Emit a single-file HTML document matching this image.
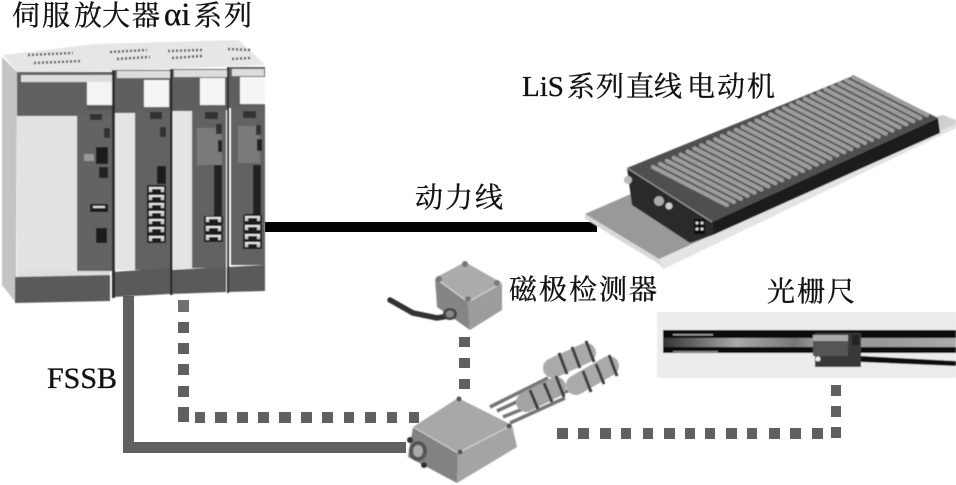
<!DOCTYPE html>
<html lang="zh">
<head>
<meta charset="utf-8">
<style>
html,body{margin:0;padding:0;background:#fff;}
svg{display:block;}
text{font-family:"Liberation Serif","Noto Serif CJK SC",serif;fill:#111;stroke:#111;stroke-width:.35px;font-size:28px;}
</style>
</head>
<body>
<svg width="956" height="485" viewBox="0 0 956 485" xmlns="http://www.w3.org/2000/svg">
<defs>
<filter id="b" x="-5%" y="-5%" width="110%" height="110%"><feGaussianBlur stdDeviation="0.6"/></filter>
<linearGradient id="mid" x1="0" x2="1" y1="0" y2="0">
<stop offset="0" stop-color="#333"/><stop offset=".25" stop-color="#aaa"/><stop offset=".45" stop-color="#777"/><stop offset=".52" stop-color="#999"/><stop offset=".75" stop-color="#999"/><stop offset="1" stop-color="#aaa"/>
</linearGradient>
<linearGradient id="plate" x1="0" x2="1" y1="0" y2="0.3">
<stop offset="0" stop-color="#9a9a9a"/><stop offset=".5" stop-color="#999"/><stop offset="1" stop-color="#ddd"/>
</linearGradient>
<g id="conn"><rect x="0" y="0" width="19" height="8" fill="#1c1c1c"/><rect x="2" y="1" width="15" height="2" fill="#e4e4e4"/><rect x="2" y="3" width="3" height="3" fill="#ccc"/><rect x="14" y="3" width="3" height="3" fill="#ccc"/></g>
<line id="r" x1="653" y1="167" x2="727" y2="205" stroke="#9c9c9c" stroke-width="4.2" stroke-linecap="round"/>
</defs>

<!-- connectors -->
<rect x="265" y="222" width="332" height="10" fill="#000"/>
<g fill="#606060">
<rect x="123" y="296" width="11" height="157"/>
<rect x="123" y="442" width="283" height="11"/>
<rect x="178" y="300" width="11" height="12" fill="#707070"/>
<rect x="178" y="322" width="11" height="11"/>
<rect x="178" y="343" width="11" height="11"/>
<rect x="178" y="364" width="11" height="11"/>
<rect x="178" y="386" width="11" height="11"/>
<rect x="178" y="407" width="11" height="15"/>
<rect x="195" y="412" width="10" height="11"/>
<rect x="215" y="412" width="12" height="11"/>
<rect x="237" y="412" width="11" height="11"/>
<rect x="258" y="412" width="11" height="11"/>
<rect x="279" y="412" width="12" height="11"/>
<rect x="301" y="412" width="11" height="11"/>
<rect x="322" y="412" width="11" height="11"/>
<rect x="344" y="412" width="10" height="11"/>
<rect x="365" y="412" width="11" height="11"/>
<rect x="387" y="412" width="10" height="11"/>
<rect x="409" y="412" width="10" height="11"/>
<rect x="459" y="337" width="11" height="10"/>
<rect x="459" y="358" width="11" height="10"/>
<rect x="459" y="379" width="11" height="10"/>
<rect x="557" y="428" width="11" height="11"/>
<rect x="578" y="428" width="11" height="11"/>
<rect x="600" y="428" width="11" height="11"/>
<rect x="621" y="428" width="10" height="11"/>
<rect x="643" y="428" width="10" height="11"/>
<rect x="664" y="428" width="11" height="11"/>
<rect x="685" y="428" width="10" height="11"/>
<rect x="705" y="428" width="10" height="11"/>
<rect x="726" y="428" width="11" height="11"/>
<rect x="747" y="428" width="10" height="11"/>
<rect x="769" y="428" width="11" height="11"/>
<rect x="790" y="428" width="11" height="11"/>
<rect x="812" y="428" width="11" height="11"/>
<rect x="831" y="427" width="10" height="11"/>
<rect x="831" y="406" width="10" height="11"/>
<rect x="831" y="385" width="10" height="11"/>
</g>

<!-- servo amplifier -->
<g filter="url(#b)">
<polygon points="3,55 95,44 239,40 265,65 115,71 18,73" fill="#e6e6e6"/>
<polygon points="2,57 17,72 16,303 2,285" fill="#c4c4c4"/>
<g stroke="#444" stroke-width="2.5" stroke-dasharray="2 2" fill="none">
<line x1="28" y1="55" x2="73" y2="53"/><line x1="34" y1="63" x2="82" y2="61"/>
<line x1="110" y1="52" x2="147" y2="50"/><line x1="117" y1="59" x2="150" y2="57"/>
<line x1="168" y1="51" x2="202" y2="50"/><line x1="172" y1="58" x2="202" y2="56"/>
<line x1="228" y1="49" x2="250" y2="50"/><line x1="232" y1="59" x2="250" y2="58"/>
</g>
<!-- module 1 -->
<rect x="17" y="72" width="96" height="45" fill="#606060"/>
<rect x="21" y="75" width="91" height="7" fill="#ddd"/>
<rect x="87" y="82" width="26" height="28" fill="#f4f4f4"/>
<rect x="87" y="105" width="26" height="5" fill="#555"/>
<rect x="17" y="116" width="60" height="160" fill="#e2e2e2"/>
<rect x="77" y="116" width="36" height="155" fill="#646464"/>
<rect x="17" y="271" width="93" height="6" fill="#dedede"/>
<polygon points="15,277 110,275 110,301 15,303" fill="#5a5a5a"/>
<rect x="96" y="147" width="12" height="17" fill="#1c1c1c"/>
<rect x="99" y="167" width="9" height="11" fill="#222"/>
<rect x="90" y="204" width="18" height="8" fill="#1c1c1c"/><rect x="93" y="206" width="12" height="2" fill="#ddd"/>
<rect x="96" y="228" width="11" height="15" fill="#1c1c1c"/>
<rect x="104" y="128" width="6" height="10" fill="#333"/>
<rect x="84" y="154" width="10" height="7" fill="#999"/>
<rect x="90" y="114" width="12" height="6" fill="#333"/>
<!-- module 2 -->
<rect x="115" y="70" width="57" height="43" fill="#5e5e5e"/>
<rect x="117" y="71" width="54" height="7" fill="#ddd"/>
<rect x="144" y="80" width="25" height="27" fill="#f5f5f5"/>
<rect x="114" y="113" width="21" height="157" fill="#e4e4e4"/>
<rect x="135" y="112" width="36" height="158" fill="#626262"/>
<polygon points="113,272 170,268 170,294 113,297" fill="#5a5a5a"/>
<rect x="112" y="70" width="3" height="228" fill="#2e2e2e"/>
<rect x="157" y="166" width="9" height="18" fill="#1c1c1c"/>
<rect x="147" y="185" width="19" height="58" fill="#1c1c1c"/>
<use href="#conn" x="147" y="186"/><use href="#conn" x="147" y="194"/><use href="#conn" x="147" y="202"/><use href="#conn" x="147" y="210"/><use href="#conn" x="147" y="218"/><use href="#conn" x="147" y="226"/><use href="#conn" x="147" y="235"/>
<rect x="160" y="127" width="6" height="10" fill="#333"/>
<rect x="150" y="112" width="12" height="7" fill="#333"/>
<!-- module 3 -->
<rect x="172" y="69" width="56" height="42" fill="#5e5e5e"/>
<rect x="174" y="70" width="53" height="7" fill="#ddd"/>
<rect x="200" y="78" width="25" height="27" fill="#f5f5f5"/>
<rect x="173" y="111" width="19" height="158" fill="#e4e4e4"/>
<rect x="192" y="111" width="34" height="157" fill="#626262"/>
<rect x="197" y="128" width="25" height="37" fill="#7a7a7a"/>
<polygon points="171,270 226,267 226,292 171,294" fill="#5a5a5a"/>
<rect x="170" y="69" width="2.5" height="226" fill="#2e2e2e"/>
<rect x="214" y="165" width="8" height="52" fill="#222"/>
<rect x="205" y="216" width="17" height="25" fill="#1c1c1c"/>
<use href="#conn" x="204" y="216"/><use href="#conn" x="204" y="225"/><use href="#conn" x="204" y="234"/>
<rect x="216" y="124" width="6" height="10" fill="#333"/>
<rect x="218" y="140" width="4" height="12" fill="#222"/>
<rect x="205" y="112" width="13" height="7" fill="#333"/>
<!-- module 4 -->
<rect x="229" y="67" width="36" height="41" fill="#5e5e5e"/>
<rect x="232" y="69" width="32" height="7" fill="#ddd"/>
<rect x="240" y="77" width="25" height="27" fill="#f5f5f5"/>
<rect x="231" y="108" width="34" height="157" fill="#626262"/>
<rect x="226" y="110" width="3" height="157" fill="#eee"/>
<rect x="238" y="126" width="22" height="37" fill="#7a7a7a"/>
<polygon points="228,267 265,265 265,291 228,292" fill="#5a5a5a"/>
<rect x="227" y="67" width="2" height="226" fill="#2e2e2e"/>
<rect x="253" y="165" width="8" height="50" fill="#222"/>
<rect x="244" y="214" width="17" height="33" fill="#1c1c1c"/>
<use href="#conn" x="243" y="215"/><use href="#conn" x="243" y="224"/><use href="#conn" x="243" y="233"/><use href="#conn" x="243" y="241"/>
<rect x="256" y="125" width="5" height="10" fill="#333"/>
<rect x="257" y="139" width="5" height="12" fill="#222"/>
<rect x="243" y="111" width="13" height="7" fill="#333"/>
</g>

<!-- linear motor -->
<g filter="url(#b)">
<polygon points="585,214 640,190 943,115 956,120 956,128 663,269 659,259" fill="url(#plate)"/>
<polygon points="585,214 585,219 659,264 663,269 659,259" fill="#d8d8d8"/>
<polygon points="659,259 663,269 956,128 956,124" fill="#e4e4e4"/>
<polygon points="627,168 712,222 713,235 690,243 632,205" fill="#2a2a2a"/>
<polygon points="712,222 938,118 940,133 713,235" fill="#1e1e1e"/>
<polygon points="627,168 853,76 938,118 712,222" fill="#505050"/>
<use href="#r"/><use href="#r" transform="translate(6.9,-3.1)"/><use href="#r" transform="translate(13.8,-6.2)"/><use href="#r" transform="translate(20.7,-9.3)"/><use href="#r" transform="translate(27.6,-12.4)"/><use href="#r" transform="translate(34.5,-15.5)"/><use href="#r" transform="translate(41.4,-18.6)"/><use href="#r" transform="translate(48.3,-21.7)"/><use href="#r" transform="translate(55.2,-24.8)"/><use href="#r" transform="translate(62.1,-27.9)"/><use href="#r" transform="translate(69,-31)"/><use href="#r" transform="translate(75.9,-34.1)"/><use href="#r" transform="translate(82.8,-37.2)"/><use href="#r" transform="translate(89.7,-40.3)"/><use href="#r" transform="translate(96.6,-43.4)"/><use href="#r" transform="translate(103.5,-46.5)"/><use href="#r" transform="translate(110.4,-49.6)"/><use href="#r" transform="translate(117.3,-52.7)"/><use href="#r" transform="translate(124.2,-55.8)"/><use href="#r" transform="translate(131.1,-58.9)"/><use href="#r" transform="translate(138,-62)"/><use href="#r" transform="translate(144.9,-65.1)"/><use href="#r" transform="translate(151.8,-68.2)"/><use href="#r" transform="translate(158.7,-71.3)"/><use href="#r" transform="translate(165.6,-74.4)"/><use href="#r" transform="translate(172.5,-77.5)"/><use href="#r" transform="translate(179.4,-80.6)"/><use href="#r" transform="translate(186.3,-83.7)"/><use href="#r" transform="translate(193.2,-86.8)"/><use href="#r" transform="translate(200.1,-89.9)"/>
<line x1="627" y1="168" x2="712" y2="222" stroke="#999" stroke-width="1.2"/>
<circle cx="628" cy="180" r="4" fill="#bbb"/>
<circle cx="659" cy="201" r="5" fill="#aaa"/>
<circle cx="669" cy="206" r="3.5" fill="#ccc"/>
<rect x="694" y="219" width="11" height="15" fill="#111"/>
<circle cx="697" cy="223" r="1.5" fill="#ddd"/><circle cx="702" cy="223" r="1.5" fill="#ddd"/><circle cx="697" cy="229" r="1.5" fill="#ddd"/><circle cx="702" cy="229" r="1.5" fill="#ddd"/>
</g>

<!-- magnetic pole detector -->
<g filter="url(#b)">
<polyline points="390,300 413,313 437,318 455,315" fill="none" stroke="#333" stroke-width="5.5" stroke-linecap="round"/>
<polygon points="465,262 502,283 468,302 435,278" fill="#ababab"/>
<polygon points="435,278 468,302 470,330 437,307" fill="#858585"/>
<polygon points="502,283 468,302 470,330 502,310" fill="#9c9c9c"/>
<polyline points="435,278 468,302 502,283" fill="none" stroke="#ddd" stroke-width="1"/>
<circle cx="465" cy="264" r="3" fill="#777"/><circle cx="439" cy="279" r="3" fill="#777"/><circle cx="497" cy="283" r="3" fill="#777"/><circle cx="468" cy="299" r="3" fill="#777"/>
<ellipse cx="450" cy="314" rx="7" ry="6" fill="#444"/>
<ellipse cx="450" cy="314" rx="4" ry="3.5" fill="#888"/>
</g>

<!-- junction box with connectors -->
<g filter="url(#b)">
<g stroke="#777" stroke-width="3.5" fill="none">
<line x1="490" y1="407" x2="548" y2="378"/><line x1="497" y1="411" x2="525" y2="398"/><line x1="503" y1="417" x2="575" y2="388"/><line x1="510" y1="423" x2="565" y2="398"/>
</g>
<g stroke-linecap="round" fill="none">
<line x1="526" y1="402" x2="556" y2="387" stroke="#a4a4a4" stroke-width="20"/>
<line x1="553" y1="368" x2="586" y2="353" stroke="#aaa" stroke-width="20"/>
<line x1="576" y1="385" x2="609" y2="366" stroke="#aaa" stroke-width="20"/>
</g>
<g stroke="#3e3e3e" stroke-width="3">
<line x1="530" y1="390" x2="538" y2="409"/><line x1="544" y1="383" x2="552" y2="402"/><line x1="556" y1="376" x2="564" y2="397"/>
<line x1="559" y1="353" x2="567" y2="374"/><line x1="572" y1="347" x2="580" y2="368"/><line x1="586" y1="341" x2="594" y2="362"/>
<line x1="583" y1="371" x2="591" y2="392"/><line x1="596" y1="364" x2="604" y2="384"/><line x1="609" y1="355" x2="617" y2="376"/>
</g>
<polygon points="458,398 512,425 458,453 413,427" fill="#a8a8a8"/>
<polygon points="413,427 458,453 457,483 408,457" fill="#828282"/>
<polygon points="512,425 517,447 457,483 458,453" fill="#a4a4a4"/>
<polyline points="413,427 458,453 512,425" fill="none" stroke="#d8d8d8" stroke-width="1"/>
<ellipse cx="418" cy="451" rx="9" ry="10" fill="#555"/>
<ellipse cx="418" cy="451" rx="5" ry="6" fill="#aaa"/>
<circle cx="459" cy="399" r="2.5" fill="#555"/><circle cx="410" cy="440" r="3" fill="#333"/><circle cx="424" cy="465" r="3" fill="#333"/><circle cx="460" cy="452" r="2.5" fill="#555"/><circle cx="509" cy="426" r="2.5" fill="#555"/>
</g>

<!-- linear scale -->
<g filter="url(#b)">
<rect x="657" y="312" width="299" height="66" fill="#ececec"/>
<rect x="663" y="330" width="293" height="8" fill="#111"/>
<rect x="663" y="338" width="293" height="9" fill="url(#mid)"/>
<rect x="663" y="347" width="293" height="6" fill="#111"/>
<polygon points="861,356 956,361 956,366 861,362" fill="#111"/>
<rect x="815" y="333" width="46" height="34" fill="#383838"/>
<rect x="813" y="335" width="35" height="6" fill="#aaa"/>
<rect x="852" y="335" width="7" height="10" fill="#222"/>
<rect x="813" y="341" width="35" height="15" fill="#555"/>
<circle cx="818" cy="359" r="2.5" fill="#eee"/>
<rect x="673" y="334" width="40" height="1.5" fill="#999"/>
<rect x="673" y="351" width="45" height="1.5" fill="#888"/>
</g>

<!-- labels -->
<text y="25" x="12 42 74 102 132">伺服放大器</text>
<text y="25" x="164" style="font-family:'Liberation Serif',serif;font-size:33px">αi</text>
<text y="25" x="194 224">系列</text>
<text y="96" x="522" style="font-family:'Liberation Serif',serif;font-size:29px">LiS</text>
<text y="96" x="567 596 626 654 687 717 747">系列直线电动机</text>
<text y="207" x="415 445 475">动力线</text>
<text y="299" x="509 539 569 599 629">磁极检测器</text>
<text y="301" x="767 797 827">光栅尺</text>
<text y="388" x="47" style="font-family:'Liberation Serif',serif;font-size:30px">FSSB</text>
</svg>
</body>
</html>
